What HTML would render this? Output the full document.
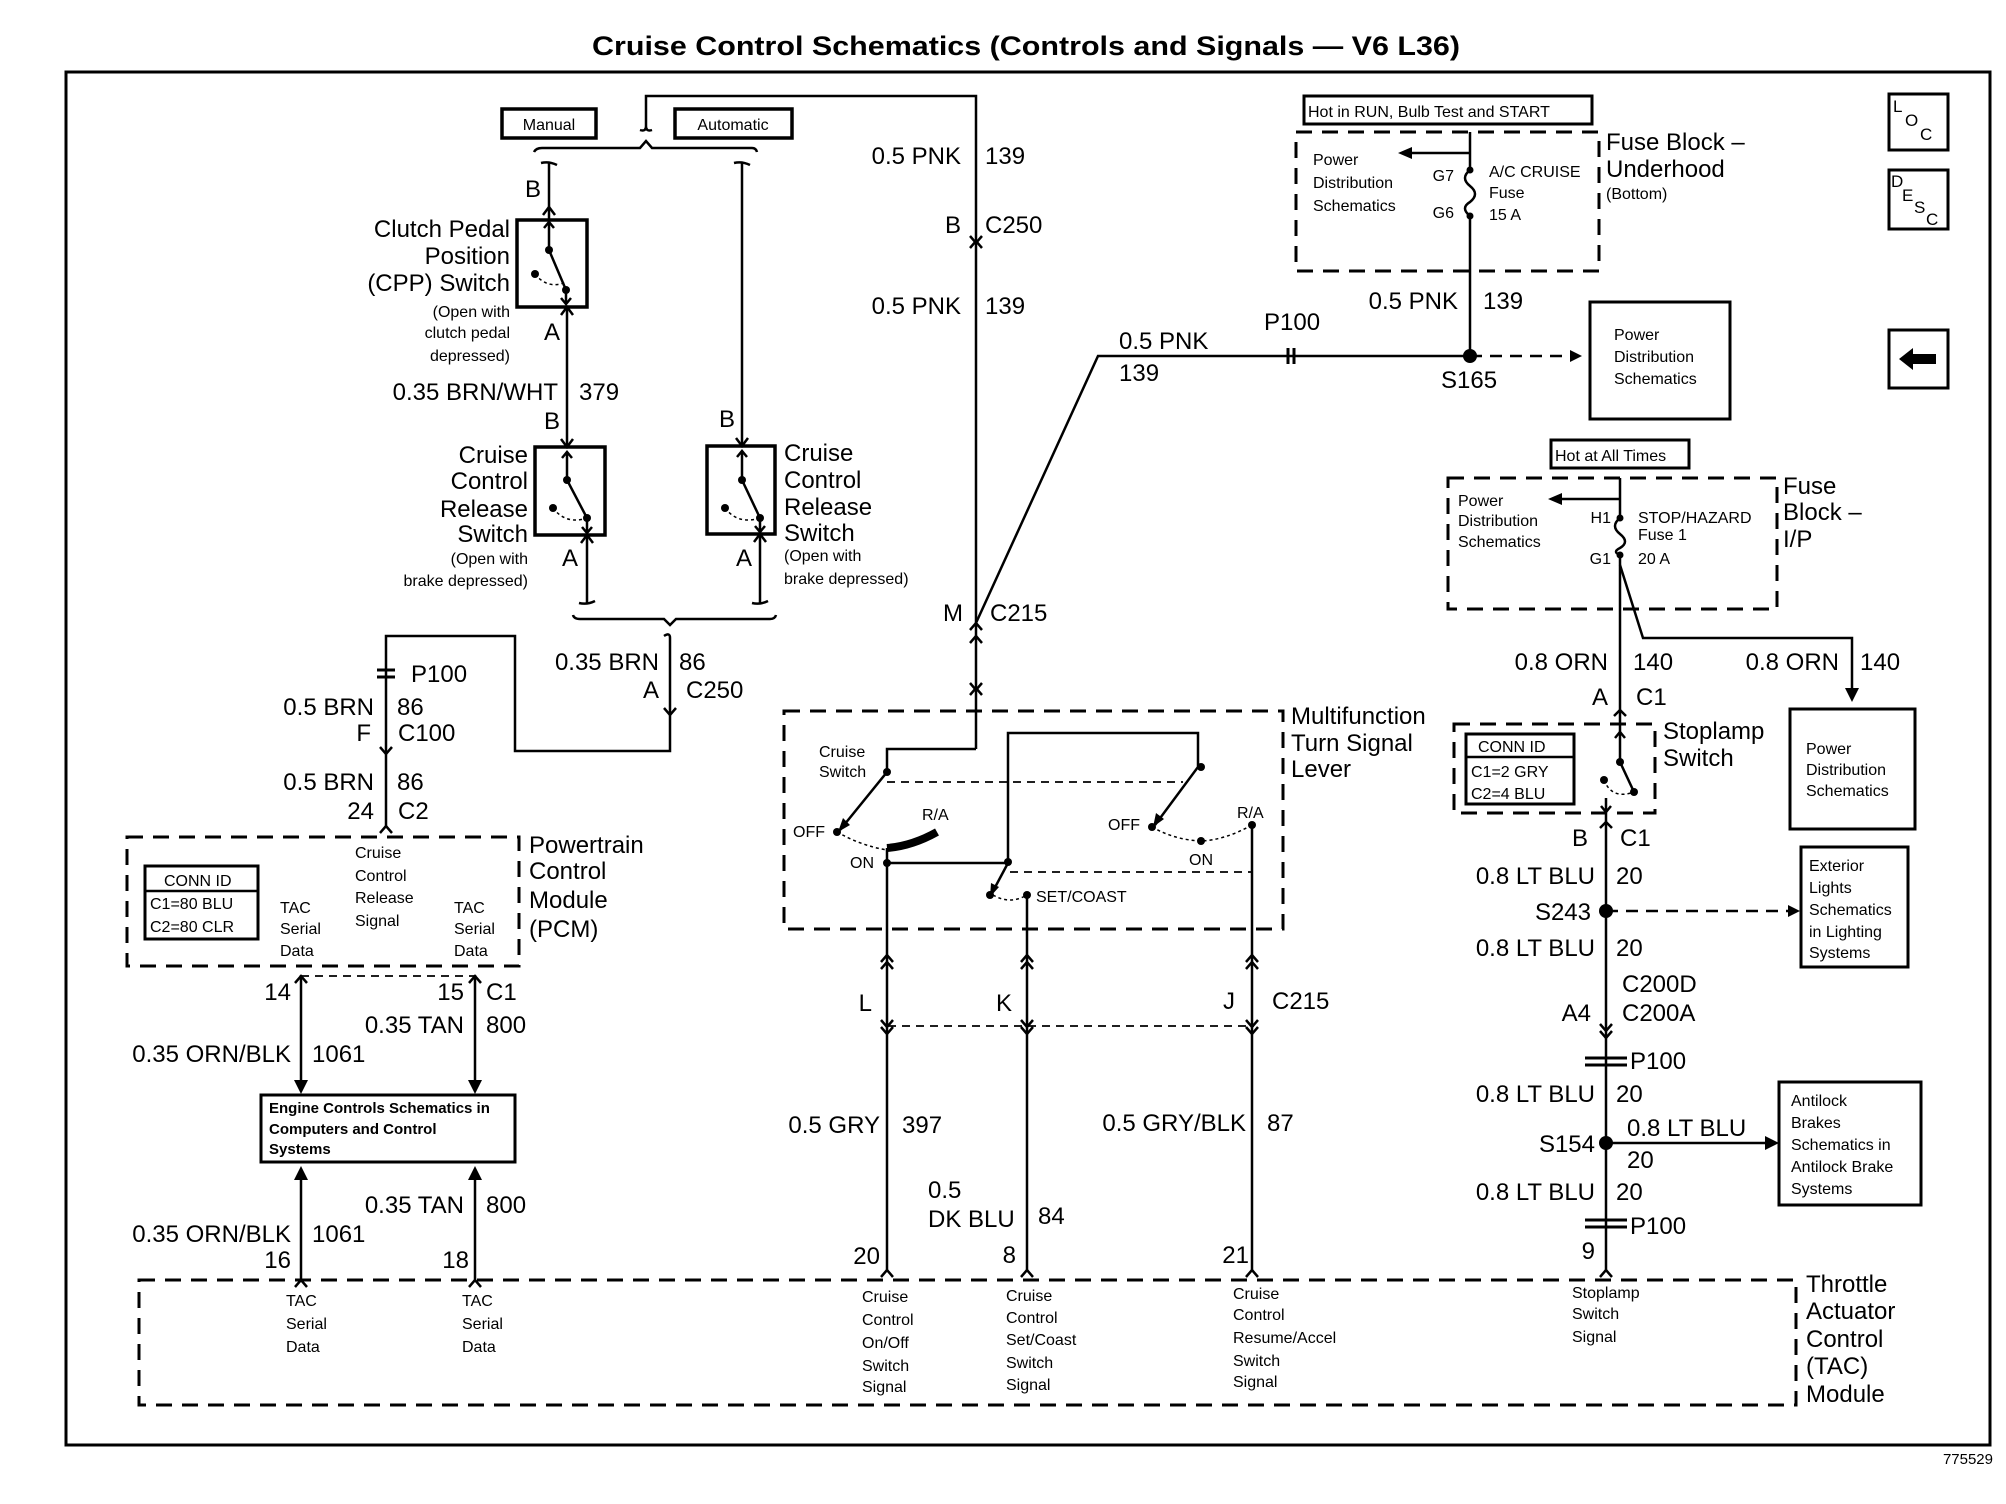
<!DOCTYPE html>
<html><head><meta charset="utf-8"><style>
html,body{margin:0;padding:0;background:#fff}
svg{display:block}
text{font-family:"Liberation Sans",Arial,sans-serif;fill:#000}
.b{font-size:24px}
.s{font-size:16px}
.t{font-size:15px;font-weight:bold}
</style></head><body>
<svg width="2006" height="1504" viewBox="0 0 2006 1504" xmlns="http://www.w3.org/2000/svg">
<g fill="none" stroke="#000" stroke-width="2.5">
<rect x="66" y="72" width="1924" height="1373" stroke-width="3"/>
<rect x="502" y="109" width="94" height="29" stroke-width="3.5"/>
<rect x="675" y="109" width="117" height="29" stroke-width="3.5"/>
<rect x="517" y="220" width="70" height="87" stroke-width="3.5"/>
<rect x="535" y="447" width="70" height="88" stroke-width="3.5"/>
<rect x="707" y="446" width="68" height="88" stroke-width="3.5"/>
<rect x="145" y="866" width="113" height="73" stroke-width="3"/>
<line x1="145" y1="891" x2="258" y2="891"/>
<rect x="261" y="1095" width="254" height="67" stroke-width="3"/>
<rect x="1304" y="96" width="288" height="28" stroke-width="3"/>
<rect x="1590" y="302" width="140" height="117" stroke-width="3"/>
<rect x="1889" y="94" width="59" height="56" stroke-width="3"/>
<rect x="1889" y="170" width="59" height="59" stroke-width="3"/>
<rect x="1889" y="330" width="59" height="58" stroke-width="3"/>
<rect x="1551" y="440" width="138" height="28" stroke-width="3"/>
<rect x="1790" y="709" width="125" height="120" stroke-width="3"/>
<rect x="1466" y="734" width="108" height="70" stroke-width="3"/>
<line x1="1466" y1="757" x2="1574" y2="757"/>
<rect x="1801" y="847" width="107" height="120" stroke-width="3"/>
<rect x="1779" y="1082" width="142" height="123" stroke-width="3"/>
<g stroke-dasharray="16,10" stroke-width="3">
<rect x="127" y="837" width="392" height="129"/>
<rect x="139" y="1280" width="1657" height="125"/>
<rect x="784" y="711" width="499" height="218"/>
<rect x="1296" y="132" width="303" height="139"/>
<rect x="1448" y="478" width="329" height="131"/>
<rect x="1454" y="724" width="201" height="89"/>
</g>
<g stroke-dasharray="8,6" stroke-width="1.8">
<line x1="301" y1="976" x2="475" y2="976"/>
<line x1="888" y1="1026" x2="1254" y2="1026"/>
<line x1="887" y1="782" x2="1183" y2="782"/>
<line x1="1010" y1="872" x2="1252" y2="872"/>
<path d="M1470 356 H1570" stroke-width="2.5" stroke-dasharray="12,8"/>
<path d="M1606 911 H1788" stroke-width="2.5" stroke-dasharray="12,8"/>
</g>
<path d="M646 126 V96 H976 V749"/>
<path d="M534 152 Q536 148 542 148 H640 L646 141 L652 148 H752 Q756 148 757 152"/>
<path d="M640 130 Q646 132 646 126 Q646 132 652 130"/>
<path d="M549 163 V220"/>
<path d="M541 163 Q549 161 557 165"/>
<path d="M567 307 V447"/>
<path d="M742 163 V446"/>
<path d="M734 163 Q742 161 750 165"/>
<path d="M587 535 V603"/>
<path d="M760 534 V603"/>
<path d="M579 603 Q587 605 595 601"/><path d="M752 603 Q760 605 768 601"/>
<path d="M573 615 Q574 619 580 619 H664 L670 625 L676 619 H770 Q775 619 776 615"/>
<path d="M664 636 Q670 632 670 638 V751 H515 V636 H386 V826"/>
<path d="M543 215 L549 207 L555 215 M561 315 L567 307 L573 315 M561 439 L567 447 L573 439 M736 438 L742 446 L748 438 M581 543 L587 535 L593 543 M754 542 L760 534 L766 542"/>
<path d="M664 708 L670 715 L676 708 M380 747 L386 754 L392 747 M380 833 L386 826 L392 833 M970 236 L976 243 L982 236 M970 248 L976 241 L982 248"/>
<path d="M970 630 L976 623 L982 630 M970 643 L976 636 L982 643 M970 683 L976 690 L982 683 M970 695 L976 688 L982 695"/>
<path d="M301 975 V1080 M475 975 V1080 M301 1280 V1180 M475 1280 V1180"/>
<path d="M295 983 L301 976 L307 983 M469 983 L475 976 L481 983 M295 1287 L301 1280 L307 1287 M469 1287 L475 1280 L481 1287"/>
<path d="M549 222 V250 L566 290 V303"/>
<path d="M544 228 L549 222 L554 228 M561 298 L566 304 L571 298"/>
<path d="M567 452 V480 L587 518 V532 M562 458 L567 452 L572 458 M582 527 L587 533 L592 527"/>
<path d="M742 451 V480 L760 518 V531 M737 457 L742 451 L747 457 M755 526 L760 532 L765 526"/>
<path d="M535 274 Q548 290 566 282 M553 508 Q566 525 587 518 M725 508 Q738 525 760 518" stroke-dasharray="3,3" stroke-width="1.5"/>
<path d="M976 749 H887 V772 L840 830"/>
<path d="M887 848 V1270"/>
<path d="M887 848 Q912 846 937 832" stroke-width="8"/>
<path d="M887 863 H1008 V733 H1198 V767 L1155 825"/>
<path d="M1008 863 L992 893"/>
<path d="M1027 895 V1270"/>
<path d="M1252 825 V1270"/>
<path d="M837 832 Q862 846 887 850 M1152 827 Q1175 840 1201 841 Q1225 840 1252 825 M993 895 Q1010 905 1027 895" stroke-dasharray="3,3" stroke-width="1.5"/>
<path d="M881 962 L887 955 L893 962 M881 969 L887 962 L893 969 M881 1020 L887 1027 L893 1020 M881 1027 L887 1034 L893 1027"/>
<path d="M1021 962 L1027 955 L1033 962 M1021 969 L1027 962 L1033 969 M1021 1020 L1027 1027 L1033 1020 M1021 1027 L1027 1034 L1033 1027"/>
<path d="M1246 962 L1252 955 L1258 962 M1246 969 L1252 962 L1258 969 M1246 1020 L1252 1027 L1258 1020 M1246 1027 L1252 1034 L1258 1027"/>
<path d="M881 1277 L887 1270 L893 1277 M1021 1277 L1027 1270 L1033 1277 M1246 1277 L1252 1270 L1258 1277 M1600 1277 L1606 1270 L1612 1277"/>
<path d="M1470 132 V170 M1470 216 V356 H1098 L976 623"/>
<path d="M1470 170 Q1460 178 1470 186 Q1480 194 1470 202 Q1460 208 1470 216"/>
<path d="M1470 153 H1410"/>
<path d="M1620 478 V518 M1620 555 V762 L1634 792"/>
<path d="M1620 518 Q1610 526 1620 534 Q1630 542 1620 548 Q1612 552 1620 555"/>
<path d="M1620 499 H1560"/>
<path d="M1620 565 L1643 638 H1852 V690"/>
<path d="M1606 798 V1270"/>
<path d="M1614 716 L1620 710 L1626 716 M1600 828 L1606 822 L1612 828 M1600 1024 L1606 1031 L1612 1024 M1600 1031 L1606 1038 L1612 1031"/>
<path d="M1615 738 L1620 732 L1625 738 M1601 806 L1606 812 L1611 806"/>
<path d="M1604 780 Q1612 800 1634 792" stroke-dasharray="3,3" stroke-width="1.5"/>
<path d="M1606 1143 H1765"/>
<path d="M1585 1058 H1627 M1585 1065 H1627 M1585 1220 H1627 M1585 1227 H1627 M377 670 H395 M377 677 H395" stroke-width="3"/>
<path d="M1288 348 V364 M1294 348 V364" stroke-width="3"/>
</g>
<g fill="#000">
<circle cx="1470" cy="356" r="7"/><circle cx="1606" cy="911" r="7"/><circle cx="1606" cy="1143" r="7"/>
<circle cx="1470" cy="170" r="3.5"/><circle cx="1470" cy="216" r="3.5"/><circle cx="1620" cy="518" r="3.5"/><circle cx="1620" cy="555" r="3.5"/>
<circle cx="549" cy="250" r="4"/><circle cx="566" cy="290" r="4"/><circle cx="535" cy="274" r="4"/>
<circle cx="567" cy="480" r="4"/><circle cx="587" cy="518" r="4"/><circle cx="553" cy="508" r="4"/>
<circle cx="742" cy="480" r="4"/><circle cx="760" cy="518" r="4"/><circle cx="725" cy="508" r="4"/>
<circle cx="887" cy="772" r="4"/><circle cx="837" cy="832" r="4"/><circle cx="887" cy="863" r="4"/><circle cx="1008" cy="862" r="4"/>
<circle cx="1201" cy="767" r="4"/><circle cx="1152" cy="827" r="4"/><circle cx="1201" cy="841" r="4"/><circle cx="1252" cy="825" r="4"/>
<circle cx="990" cy="895" r="4"/><circle cx="1027" cy="895" r="4"/><circle cx="1634" cy="792" r="4"/><circle cx="1620" cy="762" r="4"/><circle cx="1604" cy="780" r="4"/>
<path d="M294 1080 H308 L301 1094Z M468 1080 H482 L475 1094Z M294 1180 H308 L301 1166Z M468 1180 H482 L475 1166Z"/>
<path d="M1570 350 L1582 356 L1570 362Z M1788 905 L1800 911 L1788 917Z M1765 1136 L1779 1143 L1765 1150Z M1845 688 H1859 L1852 702Z"/>
<path d="M1398 153 L1412 147 L1412 159Z M1548 499 L1562 493 L1562 505Z"/>
<path d="M838 832 L843 818 L850 825Z M1153 827 L1156 813 L1164 819Z M990 897 L991 883 L999 887Z"/>
<path d="M1899 359 L1913 348 V354 H1936 V364 H1913 V370Z"/>
</g>
<text x="1026" y="55" text-anchor="middle" font-weight="bold" font-size="27" textLength="868" lengthAdjust="spacingAndGlyphs">Cruise Control Schematics (Controls and Signals — V6 L36)</text>
<g font-size="16">
<text x="549" y="130" text-anchor="middle">Manual</text>
<text x="733" y="130" text-anchor="middle">Automatic</text>
</g>
<g class="b" text-anchor="end">
<text x="510" y="237">Clutch Pedal</text><text x="510" y="264">Position</text><text x="510" y="291">(CPP) Switch</text>
<text x="528" y="463">Cruise</text><text x="528" y="489">Control</text><text x="528" y="517">Release</text><text x="528" y="542">Switch</text>
<text x="541" y="197">B</text><text x="560" y="340">A</text><text x="558" y="400">0.35 BRN/WHT</text><text x="560" y="429">B</text>
<text x="578" y="566">A</text><text x="735" y="427">B</text><text x="752" y="566">A</text>
<text x="659" y="670">0.35 BRN</text><text x="659" y="698">A</text>
<text x="374" y="715">0.5 BRN</text><text x="371" y="741">F</text>
<text x="374" y="790">0.5 BRN</text><text x="374" y="819">24</text>
<text x="291" y="1000">14</text><text x="464" y="1000">15</text><text x="464" y="1033">0.35 TAN</text><text x="291" y="1062">0.35 ORN/BLK</text>
<text x="464" y="1213">0.35 TAN</text><text x="291" y="1242">0.35 ORN/BLK</text><text x="291" y="1268">16</text><text x="469" y="1268">18</text>
<text x="961" y="164">0.5 PNK</text><text x="961" y="233">B</text><text x="961" y="314">0.5 PNK</text><text x="963" y="621">M</text>
<text x="872" y="1011">L</text><text x="1012" y="1011">K</text><text x="1235" y="1009">J</text>
<text x="880" y="1133">0.5 GRY</text><text x="1246" y="1131">0.5 GRY/BLK</text>
<text x="880" y="1264">20</text><text x="1016" y="1263">8</text><text x="1249" y="1263">21</text>
<text x="1458" y="309">0.5 PNK</text>
<text x="1608" y="670">0.8 ORN</text><text x="1839" y="670">0.8 ORN</text><text x="1608" y="705">A</text>
<text x="1588" y="846">B</text><text x="1595" y="884">0.8 LT BLU</text><text x="1591" y="920">S243</text><text x="1595" y="956">0.8 LT BLU</text>
<text x="1591" y="1021">A4</text><text x="1595" y="1102">0.8 LT BLU</text><text x="1595" y="1152">S154</text><text x="1595" y="1200">0.8 LT BLU</text><text x="1595" y="1259">9</text>
</g>
<g class="b">
<text x="784" y="461">Cruise</text><text x="784" y="488">Control</text><text x="784" y="515">Release</text><text x="784" y="541">Switch</text>
<text x="579" y="400">379</text><text x="679" y="670">86</text><text x="686" y="698">C250</text>
<text x="411" y="682">P100</text><text x="397" y="715">86</text><text x="398" y="741">C100</text><text x="397" y="790">86</text><text x="398" y="819">C2</text>
<text x="529" y="853">Powertrain</text><text x="529" y="879">Control</text><text x="529" y="908">Module</text><text x="529" y="937">(PCM)</text>
<text x="486" y="1000">C1</text><text x="486" y="1033">800</text><text x="312" y="1062">1061</text><text x="486" y="1213">800</text><text x="312" y="1242">1061</text>
<text x="985" y="164">139</text><text x="985" y="233">C250</text><text x="985" y="314">139</text><text x="990" y="621">C215</text>
<text x="1119" y="349">0.5 PNK</text><text x="1119" y="381">139</text><text x="1264" y="330">P100</text>
<text x="1483" y="309">139</text><text x="1441" y="388">S165</text>
<text x="1606" y="150">Fuse Block –</text><text x="1606" y="177">Underhood</text>
<text x="1783" y="494">Fuse</text><text x="1783" y="520">Block –</text><text x="1783" y="547">I/P</text>
<text x="1291" y="724">Multifunction</text><text x="1291" y="751">Turn Signal</text><text x="1291" y="777">Lever</text>
<text x="1633" y="670">140</text><text x="1860" y="670">140</text><text x="1636" y="705">C1</text>
<text x="1663" y="739">Stoplamp</text><text x="1663" y="766">Switch</text>
<text x="1620" y="846">C1</text><text x="1616" y="884">20</text><text x="1616" y="956">20</text><text x="1622" y="992">C200D</text><text x="1622" y="1021">C200A</text>
<text x="1630" y="1069">P100</text><text x="1616" y="1102">20</text><text x="1627" y="1136">0.8 LT BLU</text><text x="1627" y="1168">20</text><text x="1616" y="1200">20</text><text x="1630" y="1234">P100</text>
<text x="1272" y="1009">C215</text><text x="902" y="1133">397</text><text x="928" y="1198">0.5</text><text x="928" y="1227">DK BLU</text><text x="1038" y="1224">84</text><text x="1267" y="1131">87</text>
<text x="1806" y="1292">Throttle</text><text x="1806" y="1319">Actuator</text><text x="1806" y="1347">Control</text><text x="1806" y="1374">(TAC)</text><text x="1806" y="1402">Module</text>
</g>
<g class="s" text-anchor="end">
<text x="510" y="317">(Open with</text><text x="510" y="338">clutch pedal</text><text x="510" y="361">depressed)</text>
<text x="528" y="564">(Open with</text><text x="528" y="586">brake depressed)</text>
<text x="1454" y="181">G7</text><text x="1454" y="218">G6</text><text x="1611" y="523">H1</text><text x="1611" y="564">G1</text>
</g>
<g class="s">
<text x="784" y="561">(Open with</text><text x="784" y="584">brake depressed)</text>
<text x="1606" y="199">(Bottom)</text>
<text x="164" y="886">CONN ID</text><text x="150" y="909">C1=80 BLU</text><text x="150" y="932">C2=80 CLR</text>
<text x="280" y="913">TAC</text><text x="280" y="934">Serial</text><text x="280" y="956">Data</text>
<text x="355" y="858">Cruise</text><text x="355" y="881">Control</text><text x="355" y="903">Release</text><text x="355" y="926">Signal</text>
<text x="454" y="913">TAC</text><text x="454" y="934">Serial</text><text x="454" y="956">Data</text>
<text x="286" y="1306">TAC</text><text x="286" y="1329">Serial</text><text x="286" y="1352">Data</text>
<text x="462" y="1306">TAC</text><text x="462" y="1329">Serial</text><text x="462" y="1352">Data</text>
<text x="862" y="1302">Cruise</text><text x="862" y="1325">Control</text><text x="862" y="1348">On/Off</text><text x="862" y="1371">Switch</text><text x="862" y="1392">Signal</text>
<text x="1006" y="1301">Cruise</text><text x="1006" y="1323">Control</text><text x="1006" y="1345">Set/Coast</text><text x="1006" y="1368">Switch</text><text x="1006" y="1390">Signal</text>
<text x="1233" y="1299">Cruise</text><text x="1233" y="1320">Control</text><text x="1233" y="1343">Resume/Accel</text><text x="1233" y="1366">Switch</text><text x="1233" y="1387">Signal</text>
<text x="1572" y="1298">Stoplamp</text><text x="1572" y="1319">Switch</text><text x="1572" y="1342">Signal</text>
<text x="819" y="757">Cruise</text><text x="819" y="777">Switch</text><text x="793" y="837">OFF</text><text x="850" y="868">ON</text><text x="922" y="820">R/A</text>
<text x="1108" y="830">OFF</text><text x="1189" y="865">ON</text><text x="1237" y="818">R/A</text><text x="1036" y="902">SET/COAST</text>
<text x="1308" y="117">Hot in RUN, Bulb Test and START</text>
<text x="1313" y="165">Power</text><text x="1313" y="188">Distribution</text><text x="1313" y="211">Schematics</text>
<text x="1489" y="177">A/C CRUISE</text><text x="1489" y="198">Fuse</text><text x="1489" y="220">15 A</text>
<text x="1614" y="340">Power</text><text x="1614" y="362">Distribution</text><text x="1614" y="384">Schematics</text>
<text x="1555" y="461">Hot at All Times</text>
<text x="1458" y="506">Power</text><text x="1458" y="526">Distribution</text><text x="1458" y="547">Schematics</text>
<text x="1638" y="523">STOP/HAZARD</text><text x="1638" y="540">Fuse 1</text><text x="1638" y="564">20 A</text>
<text x="1806" y="754">Power</text><text x="1806" y="775">Distribution</text><text x="1806" y="796">Schematics</text>
<text x="1478" y="752">CONN ID</text><text x="1471" y="777">C1=2 GRY</text><text x="1471" y="799">C2=4 BLU</text>
<text x="1809" y="871">Exterior</text><text x="1809" y="893">Lights</text><text x="1809" y="915">Schematics</text><text x="1809" y="937">in Lighting</text><text x="1809" y="958">Systems</text>
<text x="1791" y="1106">Antilock</text><text x="1791" y="1128">Brakes</text><text x="1791" y="1150">Schematics in</text><text x="1791" y="1172">Antilock Brake</text><text x="1791" y="1194">Systems</text>
<text x="1993" y="1464" text-anchor="end" font-size="15">775529</text>
<text x="1893" y="112" font-size="17">L</text><text x="1905" y="126" font-size="17">O</text><text x="1920" y="140" font-size="17">C</text>
<text x="1891" y="187" font-size="17">D</text><text x="1902" y="201" font-size="17">E</text><text x="1914" y="213" font-size="17">S</text><text x="1926" y="225" font-size="17">C</text>
</g>
<g class="t">
<text x="269" y="1113">Engine Controls Schematics in</text><text x="269" y="1134">Computers and Control</text><text x="269" y="1154">Systems</text>
</g>
</svg>
</body></html>
